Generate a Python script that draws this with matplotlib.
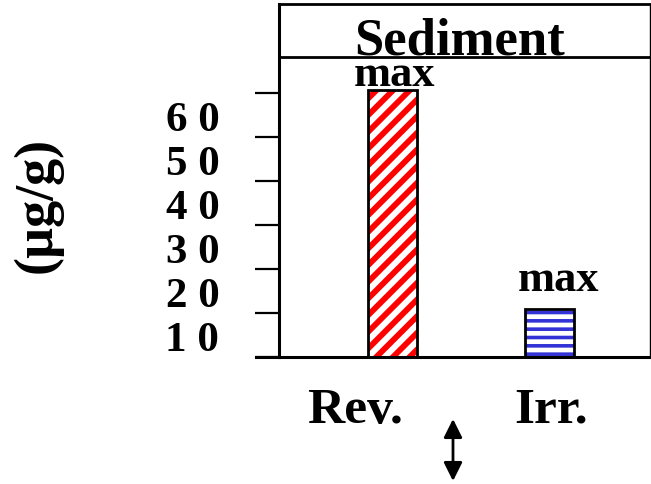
import matplotlib
matplotlib.use("Agg")
import matplotlib.pyplot as plt
from matplotlib.transforms import ScaledTranslation

# Sediment concentrations (µg/g) for the two treatments
categories = ["Rev.", "Irr."]
values = [60.7, 10.9]
bar_labels = ["max", "max"]
ytick_values = [0, 10, 20, 30, 40, 50, 60]
ytick_labels = ["", "1 0", "2 0", "3 0", "4 0", "5 0", "6 0"]
title = "Sediment"
ylabel = "(µg/g)"

hatch_colors = ["#ff0000", "#3232d6"]
hatches = ["//", "--"]
hatch_widths = [4.2, 2.6]

plt.rcParams["font.family"] = ["Liberation Serif", "DejaVu Serif"]
plt.rcParams["font.weight"] = "bold"

fig = plt.figure(figsize=(6.51, 4.85), dpi=100)
ax = fig.add_axes([279 / 651, 1 - 358 / 485, (650 - 279) / 651, (358 - 5) / 485])

x = list(range(len(categories)))
width = 0.313
for xi, v, hc, h, hw in zip(x, values, hatch_colors, hatches, hatch_widths):
    # hatched fill, then a black outline on top
    with plt.rc_context({"hatch.linewidth": hw}):
        ax.bar(xi, v, width=width, color="white", edgecolor=hc, hatch=h,
               linewidth=0, zorder=2)
    ax.bar(xi, v, width=width, fill=False, edgecolor="black",
           linewidth=2.0, zorder=3)

label_offsets = [3.2, 13.5]
for xi, v, lab, off, dx in zip(x, values, bar_labels, label_offsets, [0.01, 0.06]):
    ax.annotate(lab, (xi + dx, v), xytext=(0, off), textcoords="offset points",
                ha="center", va="baseline", fontsize=32, fontweight="bold")

ax.set_xlim(-0.725, 1.645)
ax.set_ylim(0, 80.2)

# strip line under the title
ax.axhline(68.2, color="black", linewidth=2.0, zorder=4)
ax.text(0.488, (358 - 54) / 353, title, transform=ax.transAxes,
        ha="center", va="baseline", fontsize=38, fontweight="bold")

ax.set_yticks(ytick_values)
ax.set_yticklabels(ytick_labels, fontsize=31, fontweight="bold")
ax.tick_params(axis="y", direction="out", length=17, width=1.6, pad=26)
shift = ScaledTranslation(0, -0.23, fig.dpi_scale_trans)
for lab in ax.get_yticklabels():
    lab.set_transform(lab.get_transform() + shift)

ax.set_xticks([])
for xi, cat, dx in zip(x, categories, [-0.24, 0.01]):
    ax.text(xi + dx, -(423 - 358) / 353, cat, transform=ax.get_xaxis_transform(),
            ha="center", va="baseline", fontsize=37, fontweight="bold")

ax.spines["left"].set_linewidth(2.2)
ax.spines["bottom"].set_linewidth(2.2)
ax.spines["top"].set_linewidth(2.0)
ax.spines["right"].set_linewidth(1.0)

# zero tick extends the baseline to the left
ax.plot([-0.725 - 23 / 156.5, -0.725], [0, 0], color="black", linewidth=2.2,
        clip_on=False, zorder=5)

fig.text(37 / 651, 1 - 205 / 485, ylabel, rotation=90, ha="center",
         va="center", fontsize=39, fontweight="bold")

# double-headed arrow below the axis
ax.annotate("", xy=(453 / 651, 1 - 482 / 485), xytext=(453 / 651, 1 - 420 / 485),
            xycoords="figure fraction", textcoords="figure fraction",
            arrowprops=dict(arrowstyle="<|-|>", color="black", lw=2.0,
                            mutation_scale=28, shrinkA=0, shrinkB=0))

fig.savefig("out.png", dpi=100)
